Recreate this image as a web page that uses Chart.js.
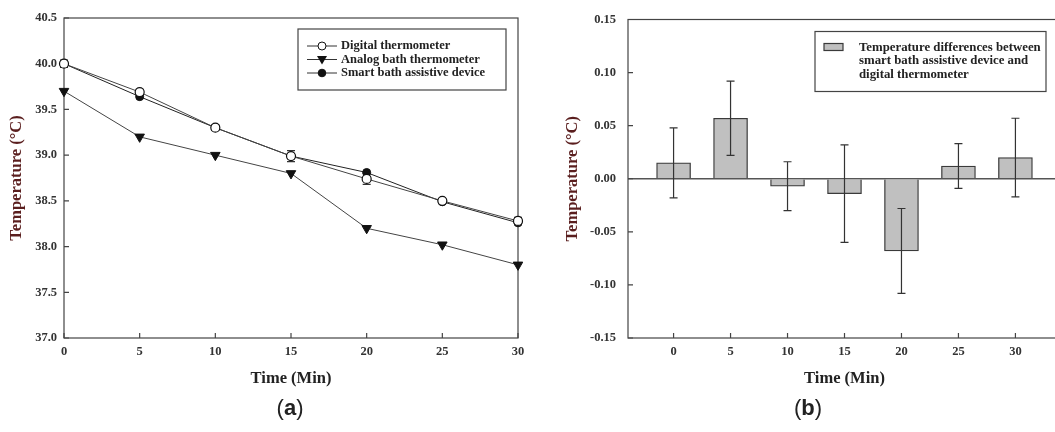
<!DOCTYPE html>
<html>
<head>
<meta charset="utf-8">
<script src="https://cdn.jsdelivr.net/npm/chart.js@4.4.0/dist/chart.umd.min.js"></script>
<style>
html, body { margin: 0; padding: 0; background: #fff; overflow: hidden; width: 1055px; height: 432px; }
#wrapA { position: absolute; left: 0; top: 0; width: 540px; height: 400px; }
#wrapB { position: absolute; left: 560px; top: 0; width: 510px; height: 400px; }
.panel { position: absolute; top: 395px; font-family: "Liberation Sans", Arial, sans-serif; font-size: 22px; color: #222; transform: translateX(-50%); }
</style>
</head>
<body>
<div id="wrapA"><canvas id="chartA"></canvas></div>
<div id="wrapB"><canvas id="chartB"></canvas></div>
<div class="panel" style="left:290px">(<b>a</b>)</div>
<div class="panel" style="left:808px">(<b>b</b>)</div>
<script>
const timeMin = [0, 5, 10, 15, 20, 25, 30];
const digitalTemp = [40.00, 39.69, 39.30, 38.99, 38.74, 38.50, 38.28];
const digitalErr = [0.04, 0.03, 0.03, 0.06, 0.06, 0.02, 0.04];
const analogTemp = [39.70, 39.20, 39.00, 38.80, 38.20, 38.02, 37.80];
const smartTemp = [40.00, 39.64, 39.30, 38.99, 38.81, 38.49, 38.26];
const diffTemp = [0.015, 0.057, -0.007, -0.014, -0.068, 0.012, 0.020];
const diffErr = [0.033, 0.035, 0.023, 0.046, 0.040, 0.021, 0.037];

const legendA = ['Digital thermometer', 'Analog bath thermometer', 'Smart bath assistive device'];
const legendB = ['Temperature differences between', 'smart bath assistive device and', 'digital thermometer'];

Chart.defaults.font.family = '"Liberation Serif", "Times New Roman", serif';
Chart.defaults.font.weight = 'bold';
Chart.defaults.color = '#333';

const tickFont = { size: 12.5, weight: 'bold' };
const titleFont = { size: 16.5, weight: 'bold' };
const yTitleColor = '#5a1e1e';

function pts(values) {
    return timeMin.map((t, i) => ({ x: t, y: values[i] }));
}

// box around plot + inward tick marks
const frame = {
    id: 'frame',
    beforeDatasetsDraw(chart) {
        const { ctx, chartArea: a } = chart;
        const xs = chart.scales.x, ys = chart.scales.y;
        ctx.save();
        ctx.strokeStyle = '#444';
        ctx.lineWidth = 1.2;
        ctx.strokeRect(a.left, a.top, a.right - a.left, a.bottom - a.top);
        ctx.beginPath();
        xs.ticks.forEach(t => {
            const px = xs.getPixelForValue(t.value);
            ctx.moveTo(px, a.bottom);
            ctx.lineTo(px, a.bottom - 5);
        });
        ys.ticks.forEach(t => {
            const py = ys.getPixelForValue(t.value);
            ctx.moveTo(a.left, py);
            ctx.lineTo(a.left + 5, py);
        });
        ctx.stroke();
        ctx.restore();
    }
};

function drawErrors(chart, onTop) {
    const { ctx } = chart;
    const ys = chart.scales.y;
    chart.data.datasets.forEach((ds, i) => {
        if (!ds.errors || !!ds.errorsOnTop !== onTop) return;
        const meta = chart.getDatasetMeta(i);
        ctx.save();
        ctx.strokeStyle = '#333';
        ctx.lineWidth = 1.2;
        meta.data.forEach((el, j) => {
            const v = ds.data[j].y;
            const e = ds.errors[j];
            const y1 = ys.getPixelForValue(v - e);
            const y2 = ys.getPixelForValue(v + e);
            ctx.beginPath();
            ctx.moveTo(el.x, y1); ctx.lineTo(el.x, y2);
            ctx.moveTo(el.x - 4, y1); ctx.lineTo(el.x + 4, y1);
            ctx.moveTo(el.x - 4, y2); ctx.lineTo(el.x + 4, y2);
            ctx.stroke();
        });
        ctx.restore();
    });
}

const errorBars = {
    id: 'errorBars',
    beforeDatasetsDraw(chart) { drawErrors(chart, false); },
    afterDatasetsDraw(chart) { drawErrors(chart, true); }
};

const legendPluginA = {
    id: 'legendA',
    afterDraw(chart) {
        const { ctx, chartArea: a } = chart;
        const bx = a.left + 234, by = a.top + 11;
        ctx.save();
        ctx.fillStyle = '#fff';
        ctx.fillRect(bx, by, 208, 61);
        ctx.strokeStyle = '#444';
        ctx.lineWidth = 1.2;
        ctx.strokeRect(bx, by, 208, 61);
        legendA.forEach((label, i) => {
            const y = by + 17 + i * 13.5;
            const mx = bx + 24;
            ctx.strokeStyle = '#333';
            ctx.lineWidth = 1;
            ctx.beginPath();
            ctx.moveTo(bx + 9, y); ctx.lineTo(bx + 39, y);
            ctx.stroke();
            ctx.beginPath();
            if (i === 1) {
                ctx.moveTo(mx - 5, y - 3.5);
                ctx.lineTo(mx + 5, y - 3.5);
                ctx.lineTo(mx, y + 5);
                ctx.closePath();
                ctx.fillStyle = '#111';
                ctx.fill();
            } else {
                ctx.arc(mx, y, i === 0 ? 4 : 3.8, 0, Math.PI * 2);
                ctx.fillStyle = i === 0 ? '#fff' : '#111';
                ctx.fill();
                ctx.strokeStyle = '#111';
                ctx.stroke();
            }
            ctx.fillStyle = '#222';
            ctx.font = 'bold 12.5px "Liberation Serif", serif';
            ctx.textBaseline = 'middle';
            ctx.fillText(label, bx + 43, y);
        });
        ctx.restore();
    }
};

const legendPluginB = {
    id: 'legendB',
    afterDraw(chart) {
        const { ctx, chartArea: a } = chart;
        const bx = a.left + 187, by = a.top + 12;
        ctx.save();
        ctx.fillStyle = '#fff';
        ctx.fillRect(bx, by, 231, 60);
        ctx.strokeStyle = '#444';
        ctx.lineWidth = 1.2;
        ctx.strokeRect(bx, by, 231, 60);
        ctx.fillStyle = '#c0c0c0';
        ctx.fillRect(bx + 9, by + 12, 19, 7);
        ctx.strokeStyle = '#3a3a3a';
        ctx.strokeRect(bx + 9, by + 12, 19, 7);
        ctx.fillStyle = '#222';
        ctx.font = 'bold 12.8px "Liberation Serif", serif';
        ctx.textBaseline = 'middle';
        legendB.forEach((line, i) => {
            ctx.fillText(line, bx + 44, by + 16 + i * 13.5);
        });
        ctx.restore();
    }
};

new Chart(document.getElementById('chartA'), {
    type: 'line',
    data: {
        datasets: [
            {
                label: legendA[0],
                data: pts(digitalTemp),
                errors: digitalErr,
                borderColor: '#444',
                borderWidth: 1,
                pointStyle: 'circle',
                pointRadius: 4.5,
                pointBackgroundColor: '#fff',
                pointBorderColor: '#111',
                pointBorderWidth: 1.2,
                clip: false
            },
            {
                label: legendA[1],
                data: pts(analogTemp),
                borderColor: '#444',
                borderWidth: 1,
                pointStyle: 'triangle',
                rotation: 180,
                pointRadius: 5.5,
                pointBackgroundColor: '#111',
                pointBorderColor: '#111',
                pointBorderWidth: 1,
                clip: false
            },
            {
                label: legendA[2],
                data: pts(smartTemp),
                borderColor: '#222',
                borderWidth: 1,
                pointStyle: 'circle',
                pointRadius: 4,
                pointBackgroundColor: '#111',
                pointBorderColor: '#111',
                pointBorderWidth: 1,
                clip: false
            }
        ]
    },
    options: {
        responsive: true,
        maintainAspectRatio: false,
        animation: false,
        layout: { padding: { top: 18, right: 22, left: 0, bottom: 0 } },
        plugins: { legend: { display: false }, tooltip: { enabled: false } },
        scales: {
            x: {
                type: 'linear',
                min: 0,
                max: 30,
                ticks: { stepSize: 5, padding: 6, color: '#333', font: tickFont },
                grid: { display: false, drawTicks: false },
                border: { display: false },
                title: { display: true, text: 'Time (Min)', color: '#222', font: titleFont, padding: { top: 0, bottom: 11 } },
                afterFit: s => { s.height = 62; }
            },
            y: {
                min: 37,
                max: 40.5,
                ticks: { stepSize: 0.5, padding: 7, color: '#333', font: tickFont, callback: v => v.toFixed(1) },
                grid: { display: false, drawTicks: false },
                border: { display: false },
                title: { display: true, text: 'Temperature (°C)', color: yTitleColor, font: titleFont, padding: { top: 7, bottom: 0 } },
                afterFit: s => { s.width = 64; }
            }
        }
    },
    plugins: [frame, errorBars, legendPluginA]
});

new Chart(document.getElementById('chartB'), {
    type: 'bar',
    data: {
        datasets: [{
            label: legendB.join(' '),
            data: pts(diffTemp),
            errors: diffErr,
            errorsOnTop: true,
            backgroundColor: '#c0c0c0',
            borderColor: '#3a3a3a',
            borderWidth: 1.3,
            barThickness: 34
        }]
    },
    options: {
        responsive: true,
        maintainAspectRatio: false,
        animation: false,
        layout: { padding: { top: 18, right: 9, left: 0, bottom: 0 } },
        plugins: { legend: { display: false }, tooltip: { enabled: false } },
        scales: {
            x: {
                type: 'linear',
                offset: false,
                min: -4,
                max: 34,
                afterBuildTicks: s => { s.ticks = timeMin.map(v => ({ value: v })); },
                ticks: { padding: 6, color: '#333', font: tickFont },
                grid: { display: false, drawTicks: false, offset: false },
                border: { display: false },
                title: { display: true, text: 'Time (Min)', color: '#222', font: titleFont, padding: { top: 0, bottom: 11 } },
                afterFit: s => { s.height = 62; }
            },
            y: {
                min: -0.15,
                max: 0.15,
                ticks: {
                    stepSize: 0.05, padding: 12, color: '#333', font: tickFont,
                    callback: v => Math.abs(v) < 1e-9 ? '0.00' : v.toFixed(2)
                },
                grid: {
                    drawTicks: false,
                    lineWidth: 1.5,
                    color: c => Math.abs(c.tick.value) < 1e-9 ? '#555' : 'rgba(0,0,0,0)'
                },
                border: { display: false },
                title: { display: true, text: 'Temperature (°C)', color: yTitleColor, font: titleFont, padding: { top: 3, bottom: 0 } },
                afterFit: s => { s.width = 68; }
            }
        }
    },
    plugins: [frame, errorBars, legendPluginB]
});
</script>
</body>
</html>
